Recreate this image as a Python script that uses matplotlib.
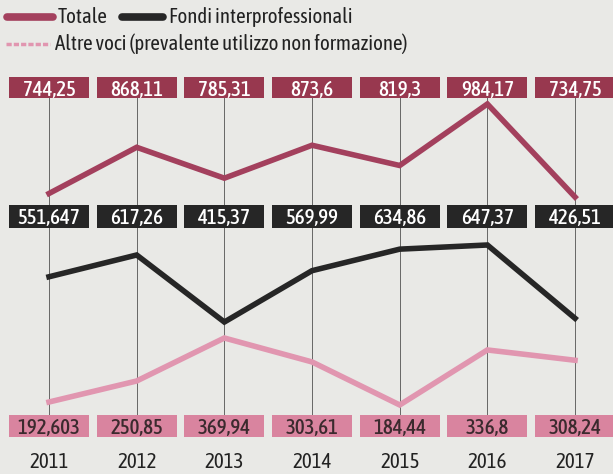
import matplotlib.pyplot as plt
from matplotlib.patches import Rectangle
from matplotlib.lines import Line2D

anni = [2011, 2012, 2013, 2014, 2015, 2016, 2017]
totale = [744.25, 868.11, 785.31, 873.6, 819.3, 984.17, 734.75]
fondi = [551.647, 617.26, 415.37, 569.99, 634.86, 647.37, 426.51]
altre = [192.603, 250.85, 369.94, 303.61, 184.44, 336.8, 308.24]
lab_totale = ["744,25", "868,11", "785,31", "873,6", "819,3", "984,17", "734,75"]
lab_fondi = ["551,647", "617,26", "415,37", "569,99", "634,86", "647,37", "426,51"]
lab_altre = ["192,603", "250,85", "369,94", "303,61", "184,44", "336,8", "308,24"]

plt.rcParams['font.family'] = ['Asap Condensed', 'Barlow Condensed', 'DejaVu Sans']

bg = '#e9e9e6'
c_tot = '#a3405d'
c_tot_box = '#98384f'
c_fon = '#262626'
c_alt = '#e196b0'
c_alt_box = '#d9849f'

fig = plt.figure(figsize=(6.13, 4.74), dpi=100, facecolor=bg)
ax = fig.add_axes([0, 0, 1, 1])
ax.set_facecolor(bg)
ax.set_xlim(2010.441, 2017.433)
ax.set_ylim(0, 1)
ax.axis('off')

# griglia verticale
for a in anni:
    ax.plot([a, a], [1 - 415 / 474, 1 - 98 / 474], color='#666666', lw=0.7, zorder=1)

# serie, ognuna con la sua scala
ax_t = ax.twinx()
ax_t.set_ylim(-7.8, 1263.0)
ax_f = ax.twinx()
ax_f.set_ylim(-42.4, 1385.3)
ax_a = ax.twinx()
ax_a.set_ylim(-6.8, 1306.2)
for a_, vals, col in [(ax_t, totale, c_tot), (ax_f, fondi, c_fon), (ax_a, altre, c_alt)]:
    a_.set_position([0, 0, 1, 1])
    a_.axis('off')
    a_.plot(anni, vals, color=col, lw=4, solid_joinstyle='miter', zorder=3)

# etichette nei riquadri (sull'ultimo asse, sopra le linee)
righe = [
    (lab_totale, c_tot_box, 'white', 77, 98),
    (lab_fondi, c_fon, 'white', 205, 228),
    (lab_altre, c_alt_box, '#3b2a2e', 415, 437),
]
for labels, fc, tc, top, bot in righe:
    for a, s in zip(anni, labels):
        y0 = 1 - bot / 474
        h = (bot - top) / 474
        ax_a.add_patch(Rectangle((a - 0.455, y0), 0.91, h, transform=ax.transData,
                                 facecolor=fc, edgecolor='none', zorder=4))
        ax_a.text(a, y0 + h / 2, s, ha='center', va='center_baseline', color=tc,
                  fontsize=15, fontweight='medium', transform=ax.transData, zorder=5)

for a in anni:
    ax.text(a, 1 - 462 / 474, str(a), ha='center', va='center', color='#222222', fontsize=15)

# legenda
fig.add_artist(Line2D([7 / 613, 53 / 613], [1 - 17 / 474] * 2, color=c_tot, lw=5.5,
                      solid_capstyle='round'))
fig.text(58 / 613, 1 - 17 / 474, "Totale", va='center', fontsize=15, color='#222222')
fig.add_artist(Line2D([122 / 613, 163 / 613], [1 - 17 / 474] * 2, color=c_fon, lw=5.5,
                      solid_capstyle='round'))
fig.text(169 / 613, 1 - 17 / 474, "Fondi interprofessionali", va='center', fontsize=15,
         color='#222222')
fig.add_artist(Line2D([6 / 613, 50 / 613], [1 - 44 / 474] * 2, color=c_alt, lw=2.5,
                      linestyle=(0, (1.5, 0.6))))
fig.text(55 / 613, 1 - 44 / 474, "Altre voci (prevalente utilizzo non formazione)",
         va='center', fontsize=15, color='#222222')

fig.savefig('out.png', dpi=100, facecolor=bg)
